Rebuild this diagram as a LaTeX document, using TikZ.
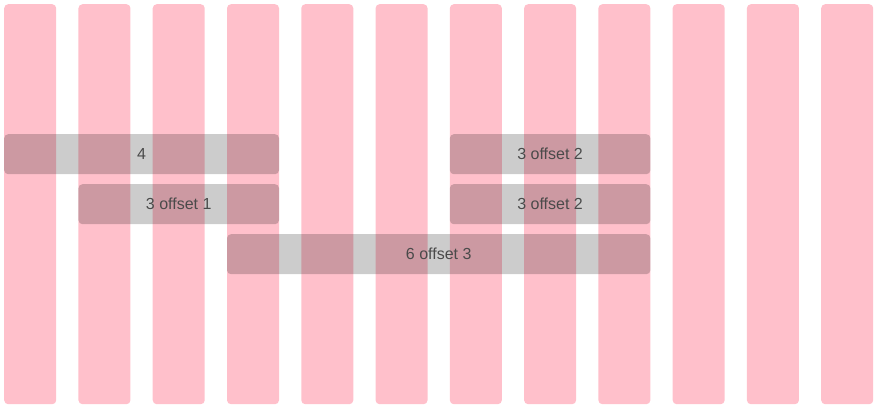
\documentclass[tikz,border=0pt]{standalone}
\usepackage{fontspec}
\setmainfont{Liberation Sans}
\usetikzlibrary{positioning}
\definecolor{colpink}{HTML}{FFC0CB}
\definecolor{labelgray}{HTML}{4A4A4A}

\begin{document}
\begin{tikzpicture}[x=1pt, y=-1pt,
    column/.style={fill=colpink, draw=none, rounded corners=4pt, minimum width=52pt, minimum height=400pt, inner sep=0pt, anchor=north west},
    span/.style={fill=black, fill opacity=0.2, text opacity=1, text=labelgray, rounded corners=4pt, minimum height=40pt, inner sep=0pt, anchor=north west, font=\fontsize{16}{19}\selectfont}]
        \useasboundingbox (0,0) rectangle (876,408);
        \pgfmathsetmacro{\pitch}{52+245/11}

        % Grid columns
        \foreach \i in {0,...,11}
            \node[column] (col\i) at ({4+\i*\pitch},4) {};

        % Row 1
        \node[span, minimum width={3*\pitch+52}] (rowAa) at (col0.west |- 0,134) {4};
        \node[span, minimum width={2*\pitch+52}] (rowAb) at (col6.west |- 0,134) {3 offset 2};

        % Row 2
        \node[span, minimum width={2*\pitch+52}] (rowBa) at (col1.west |- 0,184) {3 offset 1};
        \node[span, minimum width={2*\pitch+52}] (rowBb) at (col6.west |- 0,184) {3 offset 2};

        % Row 3
        \node[span, minimum width={5*\pitch+52}] (rowC) at (col3.west |- 0,234) {6 offset 3};

    \end{tikzpicture}
\end{document}
